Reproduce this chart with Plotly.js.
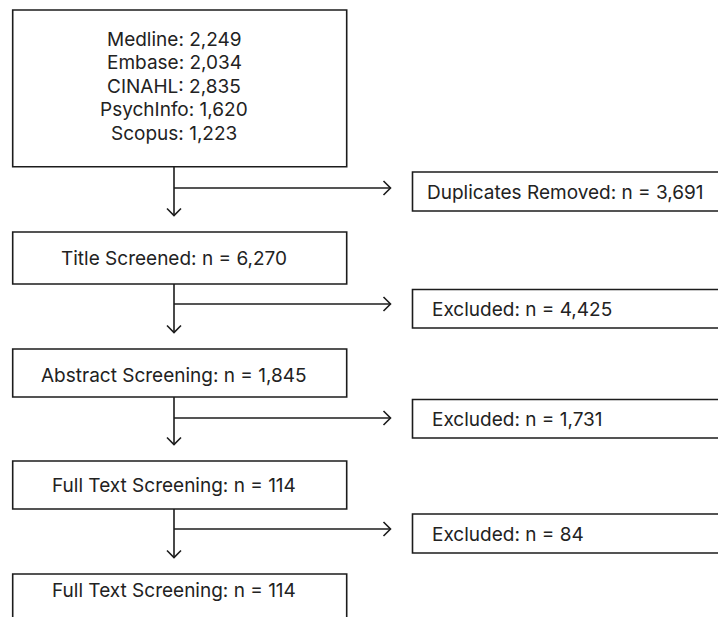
<!DOCTYPE html>
<html>
<head>
<meta charset="utf-8">
<script src="https://cdn.plot.ly/plotly-3.0.1.min.js"></script>
<style>html,body{margin:0;padding:0;background:#fff;}#chart{width:718px;height:617px;}</style>
</head>
<body>
<div id="chart"></div>
<script>
// ---- data ----
const databases = ["Medline", "Embase", "CINAHL", "PsychInfo", "Scopus"];
const databaseCounts = [2249, 2034, 2835, 1620, 1223];
const stages = ["Title Screened", "Abstract Screening", "Full Text Screening", "Full Text Screening"];
const stageCounts = [6270, 1845, 114, 114];
const removals = ["Duplicates Removed", "Excluded", "Excluded", "Excluded"];
const removalCounts = [3691, 4425, 1731, 84];

// ---- layout geometry (pixels) ----
const W = 718, H = 617;
const boxL = 12.7, boxR = 346.7, stemX = 174;
const topBox = [10, 166.7];
const stageTop = [232, 349, 461, 574];
const stageBot = [284, 397, 509, 640];
const stageTextY = [258, 375, 485, 590];
const sideL = 412.5, sideR = 740;
const sideTop = [172, 289.5, 399.5, 514];
const sideBot = [211, 328, 438, 553];
const sideTextX = [425, 430, 430, 430];
const arrowY = [188, 304, 418, 529];
const arrowTipX = 390.5;
const fmt = v => v.toLocaleString('en-US');

const lineCol = '#1c1c1c';
const lw = 1.6;
const shapes = [];
const annotations = [];
const font = {family: 'Inter, "Open Sans", sans-serif', size: 19, color: '#222'};

function rect(x0, y0, x1, y1) {
  shapes.push({type: 'rect', xref: 'x', yref: 'y', x0, y0, x1, y1,
    line: {color: lineCol, width: lw}, fillcolor: 'rgba(0,0,0,0)'});
}
function line(x0, y0, x1, y1) {
  shapes.push({type: 'line', xref: 'x', yref: 'y', x0, y0, x1, y1,
    line: {color: lineCol, width: lw}});
}
function path(d) {
  shapes.push({type: 'path', xref: 'x', yref: 'y', path: d,
    line: {color: lineCol, width: lw}});
}
function text(t, x, y, xanchor) {
  annotations.push({xref: 'x', yref: 'y', x, y, text: t, showarrow: false,
    xanchor: xanchor || 'center', yanchor: 'middle', font});
}

// top sources box
rect(boxL, topBox[0], boxR, topBox[1]);
databases.forEach((d, i) => text(d + ': ' + fmt(databaseCounts[i]), stemX, 39 + i * 23.5));

const prevBottoms = [topBox[1], stageBot[0], stageBot[1], stageBot[2]];
const ah = 7;
stages.forEach((s, i) => {
  rect(boxL, stageTop[i], boxR, stageBot[i]);
  text(s + ': n = ' + fmt(stageCounts[i]), stemX, stageTextY[i]);
  // vertical connector with arrow
  const tipY = stageTop[i] - 16.5;
  line(stemX, prevBottoms[i], stemX, tipY);
  path(`M ${stemX - ah},${tipY - ah} L ${stemX},${tipY} L ${stemX + ah},${tipY - ah}`);
});

removals.forEach((r, i) => {
  // horizontal arrow
  line(stemX, arrowY[i], arrowTipX, arrowY[i]);
  path(`M ${arrowTipX - ah},${arrowY[i] - ah} L ${arrowTipX},${arrowY[i]} L ${arrowTipX - ah},${arrowY[i] + ah}`);
  rect(sideL, sideTop[i], sideR, sideBot[i]);
  text(r + ': n = ' + fmt(removalCounts[i]), sideTextX[i], (sideTop[i] + sideBot[i]) / 2 + 1, 'left');
});

const layout = {
  width: W, height: H,
  margin: {l: 0, r: 0, t: 0, b: 0},
  paper_bgcolor: '#fff', plot_bgcolor: '#fff',
  xaxis: {range: [0, W], visible: false, fixedrange: true},
  yaxis: {range: [H, 0], visible: false, fixedrange: true},
  shapes, annotations, showlegend: false
};
Plotly.newPlot('chart', [], layout, {displayModeBar: false, staticPlot: true});
</script>
</body>
</html>
